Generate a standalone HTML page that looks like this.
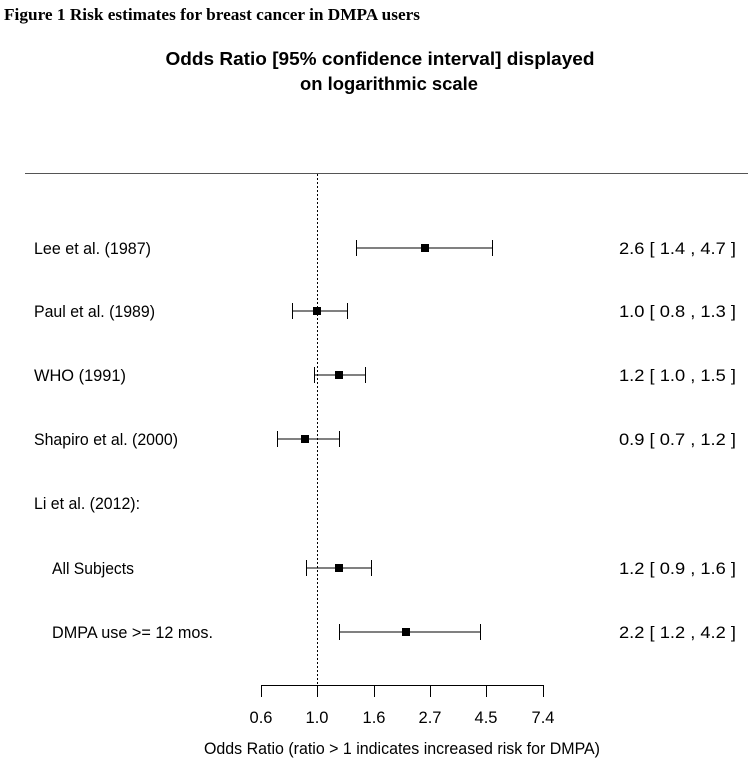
<!DOCTYPE html>
<html><head><style>
html,body{margin:0;padding:0;background:#fff;}
svg{display:block;}
</style></head><body>
<svg width="748" height="765" xmlns="http://www.w3.org/2000/svg">
<text x="4" y="20" font-family="Liberation Serif, serif" font-weight="bold" font-size="16.5" textLength="416" lengthAdjust="spacingAndGlyphs">Figure 1 Risk estimates for breast cancer in DMPA users</text>
<g font-family="Liberation Sans, sans-serif" font-weight="bold" font-size="18.5" text-anchor="middle">
<text x="380" y="65" textLength="429" lengthAdjust="spacingAndGlyphs">Odds Ratio [95% confidence interval] displayed</text>
<text x="389" y="90" textLength="178" lengthAdjust="spacingAndGlyphs">on logarithmic scale</text>
</g>
<line x1="25" y1="173.5" x2="748" y2="173.5" stroke="#555" stroke-width="1"/>
<line x1="317.5" y1="174" x2="317.5" y2="686" stroke="#000" stroke-width="1" stroke-dasharray="2,2"/>
<g font-family="Liberation Sans, sans-serif" font-size="16.5" fill="#000">
<text x="34" y="254" textLength="117" lengthAdjust="spacingAndGlyphs">Lee et al. (1987)</text>
<text x="34" y="317" textLength="121" lengthAdjust="spacingAndGlyphs">Paul et al. (1989)</text>
<text x="34" y="381" textLength="92" lengthAdjust="spacingAndGlyphs">WHO (1991)</text>
<text x="34" y="445" textLength="144" lengthAdjust="spacingAndGlyphs">Shapiro et al. (2000)</text>
<text x="34" y="509" textLength="106" lengthAdjust="spacingAndGlyphs">Li et al. (2012):</text>
<text x="52" y="574" textLength="82" lengthAdjust="spacingAndGlyphs">All Subjects</text>
<text x="52" y="638" textLength="161" lengthAdjust="spacingAndGlyphs">DMPA use &gt;= 12 mos.</text>
<text x="619" y="254" textLength="117" lengthAdjust="spacingAndGlyphs">2.6 [ 1.4 , 4.7 ]</text>
<text x="619" y="317" textLength="117" lengthAdjust="spacingAndGlyphs">1.0 [ 0.8 , 1.3 ]</text>
<text x="619" y="381" textLength="117" lengthAdjust="spacingAndGlyphs">1.2 [ 1.0 , 1.5 ]</text>
<text x="619" y="445" textLength="117" lengthAdjust="spacingAndGlyphs">0.9 [ 0.7 , 1.2 ]</text>
<text x="619" y="574" textLength="117" lengthAdjust="spacingAndGlyphs">1.2 [ 0.9 , 1.6 ]</text>
<text x="619" y="638" textLength="117" lengthAdjust="spacingAndGlyphs">2.2 [ 1.2 , 4.2 ]</text>
</g>
<g stroke="#000" stroke-width="1" fill="none">
<path d="M356.5 240V256M356.5 248H492.5M492.5 240V256"/>
<path d="M292.5 303V319M292.5 311H347.5M347.5 303V319"/>
<path d="M314.5 367V383M314.5 375H365.5M365.5 367V383"/>
<path d="M277.5 431V447M277.5 439H339.5M339.5 431V447"/>
<path d="M306.5 560V576M306.5 568H371.5M371.5 560V576"/>
<path d="M339.5 624V640M339.5 632H480.5M480.5 624V640"/>
<path d="M261.5 685.5H543.5M261.5 685V697M317.5 685V697M374.5 685V697M430.5 685V697M486.5 685V697M543.5 685V697"/>
</g>
<g fill="#000">
<rect x="421" y="244" width="8" height="8"/>
<rect x="313" y="307" width="8" height="8"/>
<rect x="335" y="371" width="8" height="8"/>
<rect x="301" y="435" width="8" height="8"/>
<rect x="335" y="564" width="8" height="8"/>
<rect x="402" y="628" width="8" height="8"/>
</g>
<g font-family="Liberation Sans, sans-serif" font-size="16.5" text-anchor="middle">
<text x="261" y="723">0.6</text>
<text x="317" y="723">1.0</text>
<text x="374" y="723">1.6</text>
<text x="430" y="723">2.7</text>
<text x="486" y="723">4.5</text>
<text x="543" y="723">7.4</text>
<text x="402" y="754" textLength="396" lengthAdjust="spacingAndGlyphs">Odds Ratio (ratio &gt; 1 indicates increased risk for DMPA)</text>
</g>
</svg>
</body></html>
